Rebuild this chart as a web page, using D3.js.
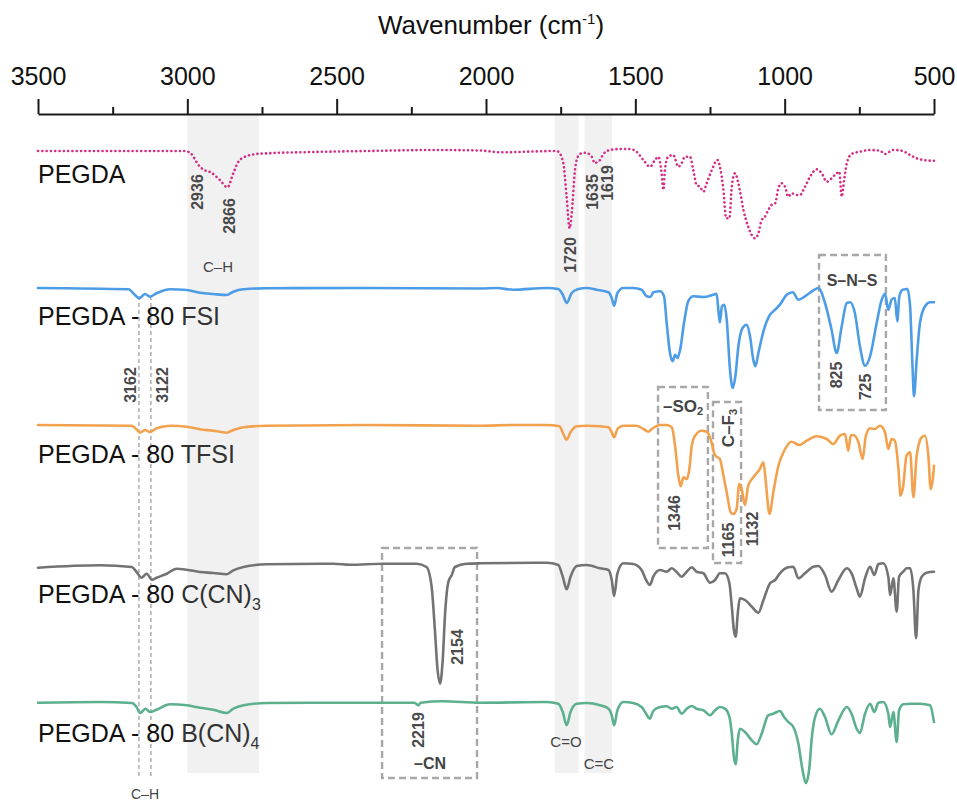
<!DOCTYPE html>
<html><head><meta charset="utf-8">
<script src="https://cdn.jsdelivr.net/npm/d3@7"></script>
<style>
html,body{margin:0;padding:0;background:#fff;}
svg{display:block;font-family:"Liberation Sans",Arial,sans-serif;}
</style></head><body>
<svg id="chart" width="957" height="803"></svg>
<script>
// ---------- DATA ----------
const majorTicks = [3500, 3000, 2500, 2000, 1500, 1000, 500];
const minorTicks = [3250, 2750, 2250, 1750, 1250, 750];
const seriesNames = ["PEGDA", "PEGDA - 80 FSI", "PEGDA - 80 TFSI", "PEGDA - 80 C(CN)3", "PEGDA - 80 B(CN)4"];

// [wavenumber (cm-1), absorption depth below baseline (a.u.)]
const pegda = [[3500,0],[3010,0],[2991,1.7],[2958,15.7],[2936,20],[2924,21],[2891,29],[2866,36.3],[2846,22.3],[2829,10.7],[2801,5],[2768,3],[2734,2.3],[2623,1.3],[2400,0],[2176,-1],[2020,-0.5],[1953,1.3],[1763,0],[1758,0.7],[1741,12.3],[1730,45.7],[1720,77.3],[1713,62.3],[1702,19],[1691,5],[1674,1.7],[1661,2.3],[1646,5.7],[1635,12.3],[1627,10.7],[1618,9],[1607,3],[1585,-1],[1551,-2],[1518,-2],[1496,0.7],[1473,9],[1451,15.7],[1434,9],[1423,5.7],[1412,22.3],[1406,39],[1401,19],[1390,5.7],[1373,4],[1356,15.7],[1345,12.3],[1334,5.7],[1317,5.7],[1306,19],[1295,34],[1284,35.7],[1272,40.7],[1261,32.3],[1244,19],[1225,9],[1217,15.7],[1205,39],[1196,67.3],[1185,67.3],[1177,35.7],[1166,22.3],[1155,32.3],[1138,59],[1122,75.7],[1099,87.3],[1088,82.3],[1077,69],[1066,65.7],[1055,59],[1044,54],[1032,52.3],[1021,37.3],[1010,32.3],[999,35.7],[988,45.7],[977,42.3],[960,44],[949,44],[932,35.7],[915,25.7],[893,18.3],[876,22.3],[859,30.7],[843,27.3],[826,22.3],[817,20.7],[809,45.7],[801,29],[792,12.3],[776,3],[748,0.7],[714,-1],[681,-0.3],[664,3],[636,-1],[608,-0.3],[580,4],[558,7.3],[536,9],[508,9.7],[500,9.7]];

const fsi = [[3500,0],[3197,1.3],[3175,7],[3161,10.3],[3142,6],[3125,8.7],[3103,5.3],[3058,1.3],[3002,2],[2958,4.7],[2913,6],[2868,7],[2846,3.7],[2812,1.3],[2734,0.3],[2400,0],[2020,0.5],[1964,0],[1909,1.7],[1797,0],[1758,1],[1743,6.7],[1730,15],[1713,5],[1691,1],[1663,0],[1630,1.7],[1590,4.3],[1579,10],[1571,17.7],[1560,5],[1540,0],[1507,0],[1479,1.7],[1462,8.3],[1449,9],[1440,4.3],[1417,3.3],[1404,8.3],[1395,35],[1384,65],[1375,73.3],[1367,66.7],[1359,70],[1350,61.7],[1337,35],[1323,13.3],[1306,8.3],[1272,9],[1239,6.7],[1228,5.7],[1221,25],[1217,34.3],[1210,18.3],[1202,16.7],[1194,31.7],[1183,81.7],[1174,100],[1165,88.3],[1155,58.3],[1141,40],[1127,36.7],[1116,48.3],[1105,71.7],[1098,78.3],[1088,65],[1071,43.3],[1049,26.7],[1032,21.7],[1016,16.7],[993,6.7],[973,4.3],[954,11.7],[932,8.3],[904,2.3],[887,0],[865,15],[843,41.7],[826,65],[809,38.3],[792,15],[781,14.3],[765,25],[748,58.3],[731,77.7],[714,68.3],[692,35],[675,11.7],[664,5.7],[653,21.7],[642,11.7],[631,10],[623,33.3],[616,8.3],[605,1.7],[589,1],[580,18.3],[572,78.3],[567,108.3],[558,71.7],[547,35],[530,18.3],[513,14.3],[500,14.3]];

const tfsi = [[3500,0],[3186,0.7],[3170,4.3],[3158,7.7],[3142,5],[3125,7],[3103,3.3],[3058,0.7],[3002,1.7],[2958,4.3],[2913,5.7],[2868,7.7],[2846,5],[2812,2.3],[2734,0.7],[2400,0],[2020,0.7],[1909,0],[1797,0],[1754,1.3],[1741,9],[1730,14.7],[1717,7.3],[1696,1.3],[1663,0.7],[1618,1.3],[1590,2.3],[1579,7.3],[1571,12.3],[1560,4],[1540,0.7],[1496,0.7],[1473,4],[1456,6.7],[1445,4],[1417,0],[1395,0],[1378,2.3],[1367,20.7],[1356,50.7],[1348,61.3],[1339,52.3],[1328,54],[1319,44],[1311,20.7],[1300,10.7],[1278,5.7],[1261,6.7],[1248,14],[1235,29],[1225,32.3],[1217,34],[1205,50.7],[1192,70.7],[1181,87.3],[1172,89],[1161,84],[1152,59],[1144,64],[1133,80],[1122,60.7],[1105,52.3],[1083,44],[1071,37.3],[1063,57.3],[1051,89],[1038,67.3],[1021,40.7],[1004,27.3],[977,16.7],[951,20],[926,15.7],[893,11.3],[859,14],[837,19],[815,10.7],[798,9],[787,25.7],[779,10.7],[770,10],[753,17.3],[739,34],[728,10.7],[714,3.3],[698,4],[681,0.7],[664,7.3],[653,24],[642,14],[631,15.7],[619,44],[612,70.7],[603,60.7],[592,30.7],[580,27.3],[569,72.3],[558,30.7],[541,12.3],[530,10.7],[519,30.7],[511,64],[504,54],[500,40.7]];

const ccn3 = [[3500,0.7],[3292,-1.7],[3186,0],[3170,5],[3153,10.7],[3136,6.7],[3119,12.7],[3103,10.7],[3069,6.7],[3036,1.7],[3002,2.7],[2958,5],[2913,6],[2868,7.3],[2846,3.3],[2812,0],[2734,-2.7],[2511,-3.3],[2455,-2.3],[2344,-3.3],[2232,-3.3],[2199,0],[2182,20],[2171,63.3],[2163,100],[2154,116.7],[2145,93.3],[2137,46.7],[2126,15],[2115,8.3],[2104,0],[2065,-3.3],[2020,-3.7],[1797,-4.3],[1758,-2],[1743,9.7],[1730,22.3],[1717,9.7],[1696,-1],[1663,-2],[1618,1.3],[1590,3],[1579,13],[1571,29],[1560,6.3],[1540,-3.7],[1507,-3],[1479,3],[1464,13],[1451,18],[1440,9.7],[1417,3],[1395,4.7],[1378,1.3],[1362,4.7],[1345,9.7],[1328,4.7],[1311,0.3],[1295,4.7],[1272,6.3],[1250,15.7],[1233,13],[1217,6.3],[1200,6.3],[1185,16.3],[1177,39.7],[1170,63],[1164,69.7],[1157,46.3],[1150,31.3],[1133,33],[1110,39.7],[1088,45.7],[1071,33],[1049,16.3],[1032,13],[1016,6.3],[988,0.3],[971,-0.3],[954,11.3],[932,6.3],[904,-0.3],[887,-1],[865,8],[843,24.7],[820,13],[792,1.3],[776,6.3],[759,21.3],[748,29.7],[731,11.3],[714,-0.3],[700,8],[686,-3],[670,-3.7],[653,9.7],[647,28],[636,11.3],[625,44.7],[617,9.7],[603,4.7],[592,1.3],[580,1.3],[569,23],[560,71.3],[552,23],[541,9.7],[525,5.7],[502,4.7],[500,4.7]];

const bcn4 = [[3500,0.7],[3292,0],[3186,1],[3170,5],[3158,11],[3140,6.7],[3125,10],[3103,7.7],[3058,2.3],[3002,3.3],[2958,5.7],[2913,7.7],[2868,11],[2846,6.7],[2812,3.3],[2734,1],[2511,0.7],[2240,0.7],[2226,3.3],[2219,0.7],[2143,-0.7],[2020,0.7],[1797,0],[1758,1.7],[1743,10],[1730,23.3],[1717,10],[1696,1.7],[1663,1],[1618,3.3],[1590,6.7],[1579,13.3],[1571,23.3],[1560,8.3],[1540,0],[1507,1],[1479,5],[1464,11.7],[1451,16.7],[1440,9],[1417,5],[1395,4.3],[1378,6.7],[1362,5],[1345,11.7],[1328,6.7],[1311,4],[1295,6.7],[1272,8.3],[1250,13.3],[1233,8.3],[1217,5],[1200,6.7],[1185,15],[1177,31.7],[1170,55],[1164,62.3],[1157,38.3],[1150,26.7],[1133,30],[1110,38.3],[1094,42.3],[1077,31.7],[1055,13.3],[1038,11.7],[1016,9],[1002,15],[988,20],[971,25],[954,41.7],[940,68.3],[929,81],[917,65],[910,38.3],[898,15],[882,6.7],[865,15],[843,32.3],[820,18.3],[792,5],[776,11.7],[759,26.7],[748,31],[731,11.7],[714,1.7],[700,10],[686,0.7],[670,0],[653,11.7],[647,25],[636,10],[625,40],[617,8.3],[603,2.3],[580,1.7],[547,1.7],[513,3.3],[502,16.7],[500,20]];

// shaded bands [from, to] in cm-1
const bands = [[3000, 2760], [1770, 1690], [1670, 1578]];

// ---------- LAYOUT ----------
const svg = d3.select("#chart");
const x = d3.scaleLinear().domain([3500, 500]).range([38, 934]);
const axisY = 114;
const depth = d3.scaleLinear().domain([0, 100]).range([0, 100]);
const offsets = [151, 288, 425, 567, 702];
const colors = ["#d42e85", "#4d9de6", "#f2a24e", "#737373", "#5cb08e"];
const allSeries = [pegda, fsi, tfsi, ccn3, bcn4];

// bands
svg.append("g").selectAll("rect").data(bands).join("rect")
  .attr("x", d => x(d[0])).attr("width", d => x(d[1]) - x(d[0]))
  .attr("y", axisY + 1).attr("height", 773 - axisY - 1)
  .attr("fill", "#f1f1f1");

// axis
const gAxis = svg.append("g").attr("transform", `translate(0,${axisY})`);
gAxis.call(d3.axisTop(x).tickValues(majorTicks).tickSize(15).tickSizeOuter(0).tickPadding(14).tickFormat(d3.format("d")));
gAxis.select(".domain").attr("stroke", "#1a1a1a").attr("stroke-width", 2);
gAxis.selectAll(".tick line").attr("stroke", "#1a1a1a").attr("stroke-width", 2);
gAxis.selectAll(".tick text").attr("font-size", 25).attr("fill", "#111").attr("font-family", "Liberation Sans, Arial, sans-serif");
const gMinor = svg.append("g").attr("transform", `translate(0,${axisY})`);
gMinor.call(d3.axisTop(x).tickValues(minorTicks).tickSize(7).tickSizeOuter(0).tickFormat(""));
gMinor.select(".domain").remove();
gMinor.selectAll(".tick line").attr("stroke", "#1a1a1a").attr("stroke-width", 2);

// title
const title = svg.append("text").attr("x", 491).attr("y", 34).attr("text-anchor", "middle")
  .attr("font-size", 26).attr("fill", "#111");
title.append("tspan").text("Wavenumber (cm");
title.append("tspan").attr("font-size", 15).attr("dy", -10).text("-1");
title.append("tspan").attr("dy", 10).text(")");

// vertical dashed lines for C–H (3162, 3122)
[3162, 3122].forEach(w => {
  svg.append("line").attr("x1", x(w)).attr("x2", x(w)).attr("y1", 296).attr("y2", 778)
    .attr("stroke", "#a0a0a0").attr("stroke-width", 1.3).attr("stroke-dasharray", "4,3");
});

// dashed boxes
const boxes = [
  {w0: 885, w1: 661, y0: 255, y1: 410},
  {w0: 1424, w1: 1257, y0: 387, y1: 548},
  {w0: 1240, w1: 1146, y0: 402, y1: 563},
  {w0: 2348, w1: 2030, y0: 548, y1: 778}
];
svg.append("g").selectAll("rect").data(boxes).join("rect")
  .attr("x", d => x(d.w0)).attr("width", d => x(d.w1) - x(d.w0))
  .attr("y", d => d.y0).attr("height", d => d.y1 - d.y0)
  .attr("fill", "none").attr("stroke", "#a8a8a8").attr("stroke-width", 2.4).attr("stroke-dasharray", "7,4");

// spectra
const line = d3.line().curve(d3.curveMonotoneX);
allSeries.forEach((s, i) => {
  const pts = s.map(d => [x(d[0]), offsets[i] + depth(d[1])]);
  const p = svg.append("path").attr("d", line(pts)).attr("fill", "none")
    .attr("stroke", colors[i]).attr("stroke-linejoin", "round");
  if (i === 0) {
    p.attr("stroke-width", 2.6).attr("stroke-dasharray", "0.1,4.2").attr("stroke-linecap", "round");
  } else {
    p.attr("stroke-width", 2.6).attr("stroke-linecap", "round");
  }
});

// series labels
const labelY = [183, 325, 463, 603, 742];
const labelParts = [
  ["PEGDA", null, null],
  ["PEGDA - 80 ", "FSI", null],
  ["PEGDA - 80 ", "TFSI", null],
  ["PEGDA - 80 ", "C(CN)", "3"],
  ["PEGDA - 80 ", "B(CN)", "4"]
];
labelParts.forEach((p, i) => {
  const t = svg.append("text").attr("x", 38).attr("y", labelY[i]).attr("font-size", 25).attr("fill", "#111");
  t.append("tspan").text(p[0]);
  if (p[1]) t.append("tspan").attr("fill", "#333").text(p[1]);
  if (p[2]) t.append("tspan").attr("fill", "#333").attr("font-size", 16).attr("dy", 7).text(p[2]);
});

// rotated annotation numbers
const rotLabels = [
  {t: "2936", cx: 197, cy: 192},
  {t: "2866", cx: 229, cy: 216},
  {t: "1720", cx: 570, cy: 255},
  {t: "1635", cx: 592, cy: 192},
  {t: "1619", cx: 607, cy: 183},
  {t: "3162", cx: 130, cy: 385},
  {t: "3122", cx: 162, cy: 385},
  {t: "825", cx: 836, cy: 375},
  {t: "725", cx: 865, cy: 387},
  {t: "1346", cx: 674, cy: 513},
  {t: "1165", cx: 728, cy: 540},
  {t: "1132", cx: 752, cy: 529},
  {t: "2154", cx: 457, cy: 647},
  {t: "2219", cx: 418, cy: 730}
];
rotLabels.forEach(d => {
  svg.append("text").attr("transform", `translate(${d.cx},${d.cy}) rotate(-90)`)
    .attr("text-anchor", "middle").attr("dy", "0.36em")
    .attr("font-size", 16).attr("font-weight", "bold").attr("fill", "#4a4a4a").text(d.t);
});

// plain annotation labels
const notes = [
  {t: "C–H", x: 218, y: 272, bold: false, s: 15},
  {t: "C–H", x: 145, y: 799, bold: false, s: 14},
  {t: "S–N–S", x: 852, y: 286, bold: true, s: 16},
  {t: "C=O", x: 566, y: 747, bold: false, s: 15},
  {t: "C=C", x: 599, y: 769, bold: false, s: 15},
  {t: "–CN", x: 430, y: 769, bold: true, s: 16}
];
notes.forEach(d => {
  svg.append("text").attr("x", d.x).attr("y", d.y).attr("text-anchor", "middle")
    .attr("font-size", d.s).attr("font-weight", d.bold ? "bold" : "normal").attr("fill", "#444").text(d.t);
});

// –SO2 label
const so2 = svg.append("text").attr("x", 683).attr("y", 412).attr("text-anchor", "middle")
  .attr("font-size", 17).attr("font-weight", "bold").attr("fill", "#444");
so2.append("tspan").text("–SO");
so2.append("tspan").attr("font-size", 11).attr("dy", 3).text("2");

// C–F3 rotated label
const cf3 = svg.append("text").attr("transform", "translate(728,428) rotate(-90)")
  .attr("text-anchor", "middle").attr("dy", "0.36em")
  .attr("font-size", 17).attr("font-weight", "bold").attr("fill", "#444");
cf3.append("tspan").text("C–F");
cf3.append("tspan").attr("font-size", 11).attr("dy", 3).text("3");
</script>
</body></html>
